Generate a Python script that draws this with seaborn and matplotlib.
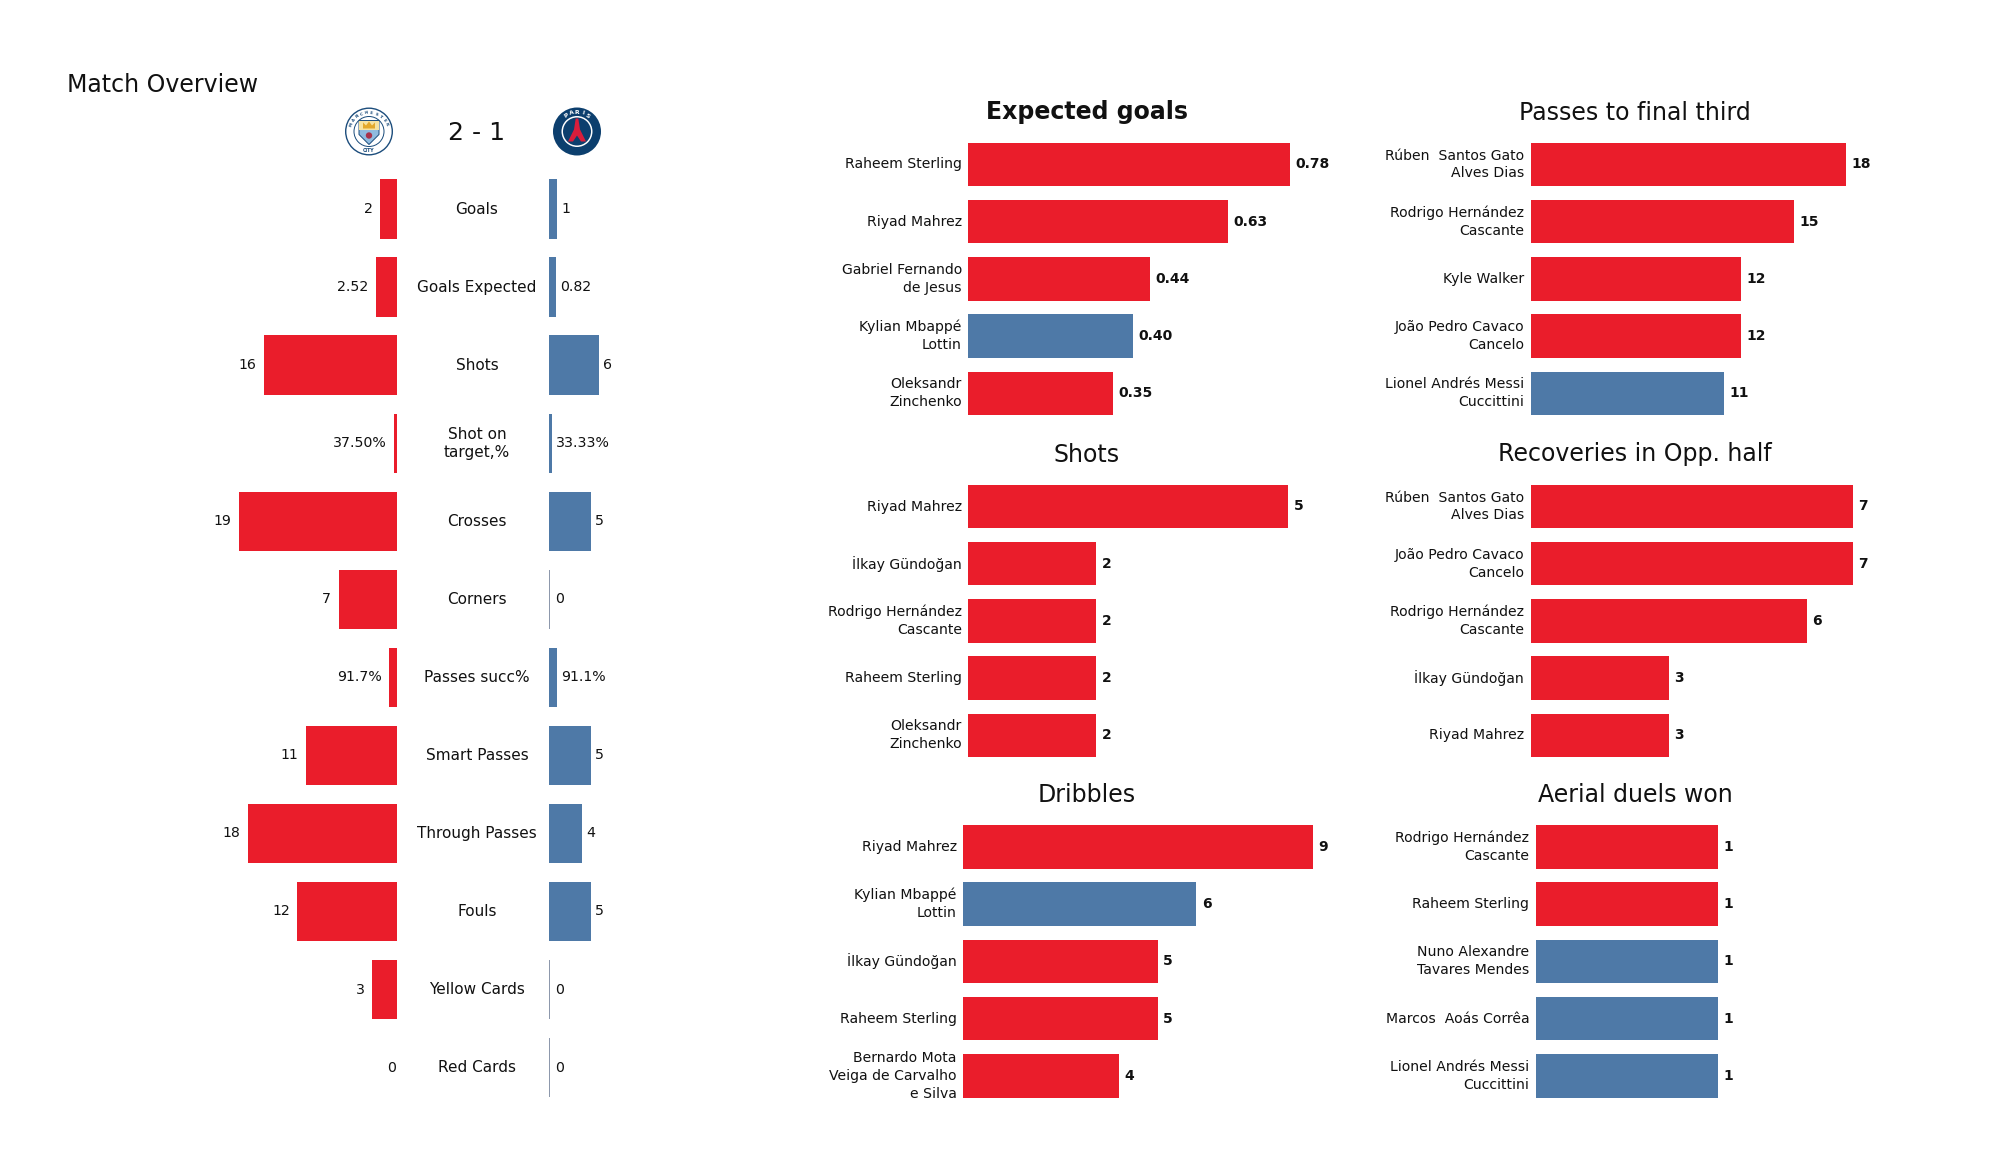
#!/usr/bin/env python3
import numpy as np
import pandas as pd
import seaborn as sns
import matplotlib.pyplot as plt
from matplotlib.patches import Circle, Polygon
from matplotlib.transforms import blended_transform_factory

sns.set_theme(style="white")
plt.rcParams["font.family"] = ["DejaVu Sans"]

W, H = 2000, 1175
RED = "#ea1d2b"
BLUE = "#4e79a7"
INK = "#111111"
palette = {"City": RED, "PSG": BLUE}

# overview table
stat_names = ["Goals", "Goals Expected", "Shots", "Shot on\ntarget,%", "Crosses", "Corners",
              "Passes succ%", "Smart Passes", "Through Passes", "Fouls", "Yellow Cards", "Red Cards"]
city_values = [2, 2.52, 16, 0.375, 19, 7, 0.917, 11, 18, 12, 3, 0]
psg_values = [1, 0.82, 6, 0.3333, 5, 0, 0.911, 5, 4, 5, 0, 0]
city_labels = ["2", "2.52", "16", "37.50%", "19", "7", "91.7%", "11", "18", "12", "3", "0"]
psg_labels = ["1", "0.82", "6", "33.33%", "5", "0", "91.1%", "5", "4", "5", "0", "0"]

# player panels
xg_names = ["Raheem Sterling", "Riyad Mahrez", "Gabriel Fernando\nde Jesus", "Kylian Mbappé\nLottin", "Oleksandr\nZinchenko"]
xg_values = [0.78, 0.63, 0.44, 0.40, 0.35]
xg_labels = ["0.78", "0.63", "0.44", "0.40", "0.35"]
xg_teams = ["City", "City", "City", "PSG", "City"]

shots_names = ["Riyad Mahrez", "İlkay Gündoğan", "Rodrigo Hernández\nCascante", "Raheem Sterling", "Oleksandr\nZinchenko"]
shots_values = [5, 2, 2, 2, 2]
shots_teams = ["City", "City", "City", "City", "City"]

dribble_names = ["Riyad Mahrez", "Kylian Mbappé\nLottin", "İlkay Gündoğan", "Raheem Sterling", "Bernardo Mota\nVeiga de Carvalho\ne Silva"]
dribble_values = [9, 6, 5, 5, 4]
dribble_teams = ["City", "PSG", "City", "City", "City"]

final_third_names = ["Rúben  Santos Gato\nAlves Dias", "Rodrigo Hernández\nCascante", "Kyle Walker", "João Pedro Cavaco\nCancelo", "Lionel Andrés Messi\nCuccittini"]
final_third_values = [18, 15, 12, 12, 11]
final_third_teams = ["City", "City", "City", "City", "PSG"]

recovery_names = ["Rúben  Santos Gato\nAlves Dias", "João Pedro Cavaco\nCancelo", "Rodrigo Hernández\nCascante", "İlkay Gündoğan", "Riyad Mahrez"]
recovery_values = [7, 7, 6, 3, 3]
recovery_teams = ["City", "City", "City", "City", "City"]

aerial_names = ["Rodrigo Hernández\nCascante", "Raheem Sterling", "Nuno Alexandre\nTavares Mendes", "Marcos  Aoás Corrêa", "Lionel Andrés Messi\nCuccittini"]
aerial_values = [1, 1, 1, 1, 1]
aerial_teams = ["City", "City", "PSG", "PSG", "PSG"]


def box(left, top, right, bottom):
    return [left / W, 1 - bottom / H, (right - left) / W, (bottom - top) / H]


def put(x, y, s, **kw):
    fig.text(x / W, 1 - y / H, s, color=INK, ha="center", va="center", **kw)


def clean(ax):
    ax.set(xlabel=None, ylabel=None, xticks=[])
    ax.tick_params(axis="y", length=0, pad=4.5)
    sns.despine(ax=ax, left=True, bottom=True)
    ax.patch.set_alpha(0)


def arc_text(ax, s, radius, color, size, span):
    # crest lettering along the top of the ring
    angles = np.linspace(-span, span, len(s))
    for ch, a in zip(s, angles):
        t = np.radians(a)
        ax.text(radius * np.sin(t), radius * np.cos(t), ch, rotation=-a, fontsize=size, color=color,
                ha="center", va="center", fontweight="bold")


fig = plt.figure(figsize=(20, 11.75), dpi=100)

# ---- overview
ax_city = fig.add_axes(box(231, 170, 397, 1106.6))
ax_psg = fig.add_axes(box(549, 170, 715, 1106.6))
over_df = pd.DataFrame({"stat": stat_names, "city": city_values, "psg": psg_values})

sns.barplot(data=over_df, y="stat", x="city", order=stat_names, color=RED, saturation=1,
            width=0.76, linewidth=0, ax=ax_city)
sns.barplot(data=over_df, y="stat", x="psg", order=stat_names, color=BLUE, saturation=1,
            width=0.76, linewidth=0, ax=ax_psg)
# zero bars still show as a thin grey line on the PSG side
for bar, v in zip(ax_psg.patches, psg_values):
    if v == 0:
        bar.set_edgecolor("#8a96aa")
        bar.set_linewidth(1.4)

ax_city.set_xlim(20, 0)
ax_psg.set_xlim(0, 20)
for ax in (ax_city, ax_psg):
    clean(ax)
    ax.set_yticks([])
    ax.set_ylim(len(stat_names) - 0.5, -0.5)

for i, (v, lab) in enumerate(zip(city_values, city_labels)):
    # the zero label sits almost against the axis in the original
    gap = 0.7 if v == 0 else 5.5
    ax_city.annotate(lab, (v, i), xytext=(-gap, 0), textcoords="offset points",
                     ha="right", va="center", fontsize=10.2, color=INK)
for i, (v, lab) in enumerate(zip(psg_values, psg_labels)):
    gap = 4.2 if v == 0 else 3.2
    ax_psg.annotate(lab, (v, i), xytext=(gap, 0), textcoords="offset points",
                    ha="left", va="center", fontsize=10.2, color=INK)

center = blended_transform_factory(fig.transFigure, ax_city.transData)
for i, name in enumerate(stat_names):
    ax_city.text(477 / W, i + 0.005, name, transform=center, ha="center", va="center",
                 fontsize=11, color=INK, clip_on=False, linespacing=1.28)

fig.text(67 / W, 1 - 85.5 / H, "Match Overview", fontsize=17, color=INK, ha="left", va="center")
put(476.5, 133.5, "2 - 1", fontsize=18)

# ---- crests
ax_c = fig.add_axes(box(342, 107, 396, 156))
ax_c.set(xlim=(-27, 27), ylim=(-24.5, 24.5), aspect="equal")
ax_c.axis("off")
ax_c.add_patch(Circle((0, 0), 24, fc="#1c4d7c", ec="none"))
ax_c.add_patch(Circle((0, 0), 22.6, fc="white", ec="none"))
ax_c.add_patch(Circle((0, 0), 15.5, fc="#1c4d7c", ec="none"))
ax_c.add_patch(Circle((0, 0), 14.5, fc="white", ec="none"))
ax_c.add_patch(Polygon([(-10, 11), (10, 11), (10, -3), (0, -13), (-10, -3)], fc="#8fbbdf", ec="#1c4d7c", lw=0.7))
ax_c.add_patch(Polygon([(-10, 11), (10, 11), (10, 2), (-10, 2)], fc="#f6e3a1", ec="none"))
ax_c.add_patch(Polygon([(-6, 3), (-6, 9), (-3, 6), (0, 10), (3, 6), (6, 9), (6, 3)], fc="#e3a92c", ec="none"))
ax_c.add_patch(Circle((0, -4), 3.2, fc="#a8324a", ec="none"))
arc_text(ax_c, "MANCHESTER", 18.8, "#1c4d7c", 2.9, 68)
ax_c.text(0, -18.6, "CITY", fontsize=3.4, color="#1c4d7c", ha="center", va="center", fontweight="bold")

ax_p = fig.add_axes(box(550, 107, 604, 156))
ax_p.set(xlim=(-27, 27), ylim=(-24.5, 24.5), aspect="equal")
ax_p.axis("off")
ax_p.add_patch(Circle((0, 0), 24, fc="#0c3f6e", ec="none"))
ax_p.add_patch(Circle((0, 0), 15.5, fc="white", ec="none"))
ax_p.add_patch(Circle((0, 0), 14, fc="#0c3f6e", ec="none"))
ax_p.add_patch(Polygon([(-1.3, 13), (1.3, 13), (3, 2), (9, -10), (4, -10), (0, -4), (-4, -10), (-9, -10), (-3, 2)],
                       fc="#d81e3c", ec="none"))
arc_text(ax_p, "PARIS", 19, "white", 4.4, 34)

# ---- player panels: (title, names, values, labels, teams, axes left, px per unit, first row, bold title)
panels = [
    ("Expected goals", xg_names, xg_values, xg_labels, xg_teams, 968, 413, 164.5, True),
    ("Shots", shots_names, shots_values, None, shots_teams, 968, 64, 506.5, False),
    ("Dribbles", dribble_names, dribble_values, None, dribble_teams, 963, 38.9, 847, False),
    ("Passes to final third", final_third_names, final_third_values, None, final_third_teams, 1530.5, 17.55, 164.5, False),
    ("Recoveries in Opp. half", recovery_names, recovery_values, None, recovery_teams, 1530.5, 46.1, 506.5, False),
    ("Aerial duels won", aerial_names, aerial_values, None, aerial_teams, 1535.5, 182.4, 847, False),
]

for title, names, values, labels, teams, left, ppu, row0, bold in panels:
    top = row0 - 28.6
    bottom = row0 + 4 * 57.2 + 28.6
    xmax = max(values) * 1.1
    ax = fig.add_axes(box(left, top, left + xmax * ppu, bottom))
    df = pd.DataFrame({"name": names, "value": values, "team": teams})
    sns.barplot(data=df, y="name", x="value", hue="team", order=names, palette=palette,
                dodge=False, saturation=1, width=0.76, linewidth=0, legend=False, ax=ax)
    ax.set_xlim(0, xmax)
    ax.set_ylim(4.5, -0.5)
    clean(ax)
    ax.tick_params(axis="y", labelsize=10.1, labelcolor=INK)
    for t in ax.get_yticklabels():
        t.set_linespacing(1.36)
        t.set_verticalalignment("center")
    if labels is None:
        labels = [str(v) for v in values]
    for i, (v, lab) in enumerate(zip(values, labels)):
        ax.annotate(lab, (v, i), xytext=(3.9, 0), textcoords="offset points", ha="left",
                    va="center", fontsize=10, fontweight="bold", color=INK, clip_on=False)
    title_x = 1086.5 if left < 1200 else 1635
    put(title_x, row0 - 52, title, fontsize=17, fontweight="bold" if bold else "normal")

fig.savefig("out.png", dpi=100)
